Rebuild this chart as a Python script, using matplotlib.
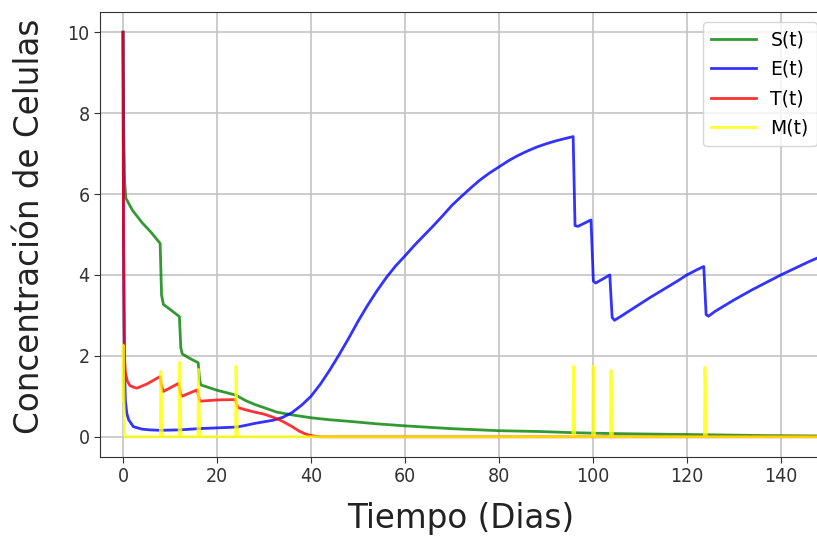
import matplotlib
matplotlib.use("Agg")
import matplotlib.pyplot as plt

# S(t): susceptible cells
t_S = [0, 0.15, 0.35, 0.6, 2, 4, 6, 7.9, 8.2, 8.6, 10, 12, 12.3, 12.6, 14, 16, 16.3, 16.6,
       20, 24, 26, 28, 30, 32.7, 36, 40, 44, 48.3, 54, 60, 70, 80, 88.7, 96, 104, 110, 124,
       136, 148]
S = [10.0, 7.5, 6.3, 5.9, 5.6, 5.3, 5.05, 4.78, 3.5, 3.27, 3.15, 2.97, 2.2, 2.05, 1.95, 1.83,
     1.4, 1.28, 1.15, 1.03, 0.9, 0.8, 0.72, 0.61, 0.54, 0.47, 0.42, 0.38, 0.32, 0.27, 0.2,
     0.15, 0.13, 0.1, 0.08, 0.07, 0.05, 0.03, 0.02]

# E(t): effector cells
t_E = [0, 0.1, 0.3, 0.5, 0.8, 1.2, 2.2, 4, 5.7, 8, 12, 16, 20, 24.2, 26, 28, 30, 32, 34, 36,
       38, 40, 42, 44, 46, 48, 50, 52, 54, 56, 58, 60, 62, 64, 66, 68, 70, 72, 74, 76, 78,
       80, 82, 84, 86, 88, 90, 92, 94, 95.8,
       96.2, 96.8, 99.6, 100.1, 100.6, 103.6, 104.1, 104.6, 106, 108, 110, 112, 114, 116,
       118, 120, 122, 123.6, 124.1, 124.6, 126, 128, 130, 132, 134, 136, 138, 140, 142,
       144, 146, 148]
E = [10.0, 5.0, 1.8, 0.9, 0.58, 0.42, 0.25, 0.19, 0.17, 0.16, 0.17, 0.2, 0.22, 0.24, 0.28,
     0.33, 0.37, 0.41, 0.48, 0.6, 0.78, 1.0, 1.3, 1.65, 2.03, 2.43, 2.85, 3.24, 3.6, 3.93,
     4.22, 4.47, 4.73, 4.97, 5.21, 5.46, 5.72, 5.94, 6.15, 6.35, 6.52, 6.67, 6.82, 6.95,
     7.06, 7.16, 7.24, 7.31, 7.37, 7.42,
     5.22, 5.2, 5.36, 3.85, 3.8, 4.0, 2.95, 2.88, 2.98, 3.13, 3.28, 3.43, 3.57, 3.71,
     3.85, 4.0, 4.12, 4.21, 3.02, 2.98, 3.1, 3.24, 3.38, 3.51, 3.64, 3.76, 3.88, 4.0, 4.11,
     4.22, 4.33, 4.43]

# T(t): tumour cells
t_T = [0, 0.1, 0.3, 0.5, 0.9, 1.5, 2.9, 5, 7.9, 8.2, 8.6, 11.8, 12.2, 12.5, 15.8, 16.1,
       16.4, 20, 23.9, 24.2, 24.5, 26, 28, 30, 32, 34, 36, 37.5, 39, 40.5, 42, 60, 96, 124,
       148]
T = [10.0, 5.0, 2.0, 1.6, 1.38, 1.26, 1.2, 1.3, 1.49, 1.25, 1.12, 1.32, 1.1, 1.0, 1.16,
     0.98, 0.88, 0.91, 0.92, 0.8, 0.72, 0.67, 0.61, 0.56, 0.48, 0.38, 0.25, 0.14, 0.06,
     0.02, 0.0, 0.0, 0.0, 0.0, 0.0]

# M(t): drug concentration, one spike per dose
t_M = [0, 0.02, 0.35,
       7.95, 8.05, 8.35, 11.95, 12.05, 12.35, 15.95, 16.05, 16.35, 23.95, 24.05, 24.35,
       95.75, 95.85, 96.15, 99.95, 100.05, 100.35, 103.75, 103.85, 104.15,
       123.75, 123.85, 124.15, 148]
M = [0.9, 2.27, 0.0,
     0.0, 1.62, 0.0, 0.0, 1.84, 0.0, 0.0, 1.67, 0.0, 0.0, 1.74, 0.0,
     0.0, 1.74, 0.0, 0.0, 1.74, 0.0, 0.0, 1.64, 0.0,
     0.0, 1.72, 0.0, 0.0]

W, H = 817, 540
fig = plt.figure(figsize=(W / 100, H / 100), dpi=100)
x0, x1 = -4.9, 150.0
px_per_day = (817 - 100) / (147.7 - x0)
ax_w = (x1 - x0) * px_per_day
ax_h = 457 - 12
ax = fig.add_axes([100 / W, (H - 457) / H, ax_w / W, ax_h / H])

ax.plot(t_S, S, color="green", alpha=0.8, lw=2, label="S(t)")
ax.plot(t_E, E, color="blue", alpha=0.8, lw=2, label="E(t)")
ax.plot(t_T, T, color="red", alpha=0.8, lw=2, label="T(t)")
ax.plot(t_M, M, color="yellow", alpha=0.8, lw=2, label="M(t)")

ax.set_xlim(x0, x1)
ax.set_ylim(-0.5, 10.5)
ax.set_xticks([0, 20, 40, 60, 80, 100, 120, 140])
ax.set_yticks([0, 2, 4, 6, 8, 10])
ax.grid(True, color="#c4c4c4", lw=1.2)
ax.set_axisbelow(True)
for s in ax.spines.values():
    s.set_color("#333333")
ax.tick_params(labelsize=14, colors="#333333", length=4)
for lab in ax.get_xticklabels() + ax.get_yticklabels():
    lab.set_fontstretch("condensed")

ax.set_xlabel("Tiempo (Dias)", fontsize=23.5, color="#222222")
ax.set_ylabel("Concentración de Celulas", fontsize=23.5, color="#222222")
ax.xaxis.set_label_coords((461 - 100) / ax_w, (457 - 502) / ax_h)
ax.yaxis.set_label_coords((46 - 100) / ax_w, (457 - 226) / ax_h)

fig.legend(loc="upper left", bbox_to_anchor=(703 / W, (H - 22) / H), borderaxespad=0,
           fontsize=13.5, framealpha=0.8, edgecolor="#cccccc", handlelength=2.35,
           handletextpad=0.8, labelspacing=0.55, borderpad=0.45)

fig.savefig("out.png", dpi=100)
